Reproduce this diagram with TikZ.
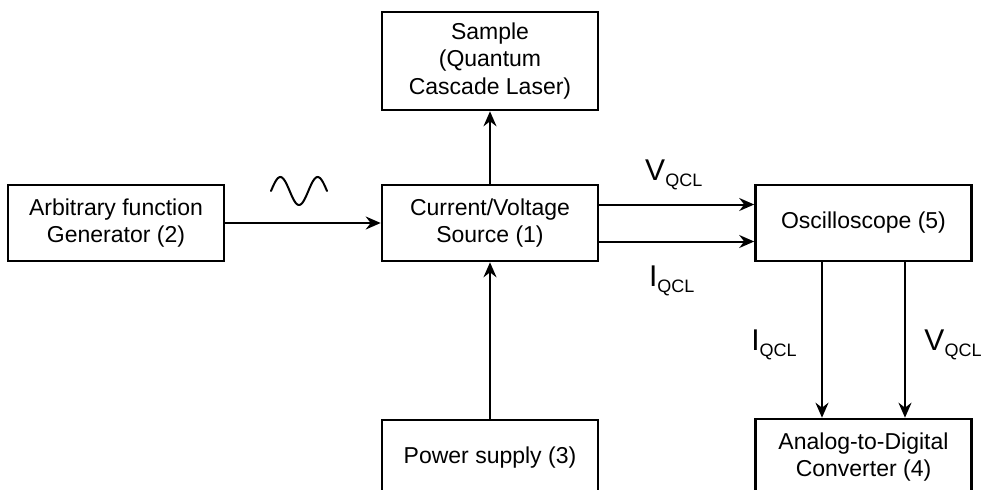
\documentclass[tikz,border=0pt]{standalone}
\usepackage{fontspec}
\setmainfont{Liberation Sans}
\usetikzlibrary{arrows.meta, positioning}

\newcommand{\qcl}[1]{{\fontsize{30}{30}\selectfont #1}\raisebox{-6pt}{\fontsize{18}{18}\selectfont QCL}}

\begin{document}
\begin{tikzpicture}[
    >={Stealth[length=15pt, width=13pt, inset=5pt]},
    x=1pt, y=-1pt,
    blk/.style={draw, line width=2.6pt, minimum width=216pt, minimum height=76pt,
      align=center, inner sep=0pt, font=\fontsize{23}{27.5}\selectfont},
    wire/.style={line width=2pt, ->},
    lbl/.style={inner sep=0pt}
  ]
  \useasboundingbox (0,0) rectangle (989,490);
  \clip (0,0) rectangle (989,490);

  % Blocchi
  \node[blk, minimum height=98pt] (sample) at (490,61) {Sample\\(Quantum\\Cascade Laser)};
  \node[blk] (afg) at (116,223) {Arbitrary function\\Generator (2)};
  \node[blk] (src) at (490,223) {Current/Voltage\\Source (1)};
  \node[blk] (osc) at (863.5,223) {Oscilloscope (5)};
  \node[blk] (psu) at (490,458) {Power supply (3)};
  \node[blk] (adc) at (863.5,457) {Analog-to-Digital\\Converter (4)};

  % Collegamenti
  \draw[wire] (afg) -- (src);
  \draw[wire] (src) -- (sample);
  \draw[wire] (psu) -- (src);
  \draw[wire] ([yshift=18.5pt]src.east) -- ([yshift=18.5pt]osc.west)
    node[lbl, midway, xshift=-3pt, yshift=30pt] (vq) {\qcl{V}};
  \draw[wire] ([yshift=-18.5pt]src.east) -- ([yshift=-18.5pt]osc.west)
    node[lbl, midway, xshift=-5pt, yshift=-39pt] (iq) {\qcl{I}};
  \draw[wire] ([xshift=-41.5pt]osc.south) -- ([xshift=-41.5pt]adc.north)
    node[lbl, midway, xshift=-48pt, yshift=-5pt] (iqa) {\qcl{I}};
  \draw[wire] ([xshift=41.5pt]osc.south) -- ([xshift=41.5pt]adc.north)
    node[lbl, midway, xshift=48pt, yshift=-5pt] (vqa) {\qcl{V}};

  % Segnale sinusoidale
  \draw[line width=2pt, line cap=round, smooth]
    plot[domain=0:540, samples=60] ({271+\x/540*56}, {191-14*sin(\x)});
\end{tikzpicture}
\end{document}
